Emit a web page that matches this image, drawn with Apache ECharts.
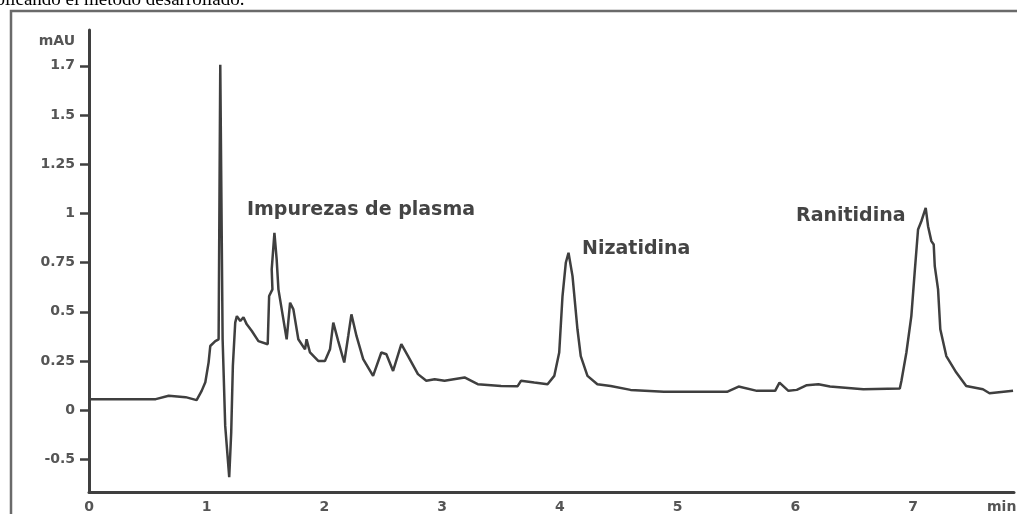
<!DOCTYPE html>
<html>
<head>
<meta charset="utf-8">
<title>Cromatograma</title>
<script src="https://cdn.jsdelivr.net/npm/echarts@6/dist/echarts.min.js"></script>
<style>
  html, body { margin: 0; padding: 0; background: #fff; }
  #chart { width: 1017px; height: 514px; }
</style>
</head>
<body>
<div id="chart"></div>
<script>
// retention time (min) and detector signal
const times = [
  0, 0.567, 0.677, 0.821, 0.914, 0.957, 0.988, 1.016, 1.030, 1.073, 1.101,
  1.115, 1.135, 1.157, 1.191, 1.208, 1.222, 1.242, 1.256, 1.285, 1.312,
  1.340, 1.383, 1.439, 1.518, 1.530, 1.558, 1.552, 1.575, 1.594, 1.609,
  1.637, 1.679, 1.708, 1.736, 1.778, 1.835, 1.848, 1.877, 1.947, 2.004,
  2.047, 2.075, 2.117, 2.168, 2.202, 2.229, 2.272, 2.329, 2.413, 2.483,
  2.526, 2.583, 2.653, 2.710, 2.794, 2.865, 2.936, 3.020, 3.190, 3.302,
  3.500, 3.641, 3.669, 3.782, 3.895, 3.952, 3.994, 4.022, 4.050, 4.073,
  4.107, 4.149, 4.177, 4.234, 4.318, 4.431, 4.600, 4.883, 5.419, 5.518,
  5.673, 5.828, 5.865, 5.941, 6.012, 6.097, 6.196, 6.294, 6.577, 6.887,
  6.901, 6.943, 6.985, 7.013, 7.042, 7.070, 7.107, 7.127, 7.155, 7.175,
  7.184, 7.212, 7.231, 7.282, 7.367, 7.451, 7.593, 7.649, 7.849
];
const signal = [
  0.056, 0.056, 0.073, 0.066, 0.051, 0.098, 0.142, 0.243, 0.326, 0.351, 0.360,
  1.755, 0.360, -0.080, -0.341, -0.113, 0.225, 0.445, 0.478, 0.453, 0.472,
  0.436, 0.402, 0.351, 0.335, 0.580, 0.614, 0.715, 0.901, 0.766, 0.614,
  0.512, 0.360, 0.546, 0.512, 0.360, 0.309, 0.360, 0.293, 0.250, 0.250,
  0.309, 0.445, 0.351, 0.242, 0.377, 0.487, 0.377, 0.259, 0.174, 0.293,
  0.284, 0.199, 0.335, 0.275, 0.183, 0.149, 0.157, 0.149, 0.166, 0.132,
  0.123, 0.122, 0.149, 0.140, 0.132, 0.174, 0.293, 0.580, 0.749, 0.800,
  0.681, 0.411, 0.275, 0.174, 0.132, 0.123, 0.103, 0.093, 0.093, 0.120,
  0.098, 0.098, 0.140, 0.098, 0.103, 0.127, 0.132, 0.120, 0.106, 0.110,
  0.149, 0.293, 0.478, 0.698, 0.918, 0.960, 1.028, 0.935, 0.859, 0.842,
  0.732, 0.614, 0.411, 0.275, 0.191, 0.123, 0.106, 0.086, 0.098
];

// the printed axis is not linear at both ends: labels sit on an even grid
const yTickValues = [-0.25, 0, 0.25, 0.5, 0.75, 1, 1.25, 1.5, 1.75];
const yTickLabels = ['-0.5', '0', '0.25', '0.5', '0.75', '1', '1.25', '1.5', '1.7'];

const peakNames = ['Impurezas de plasma', 'Nizatidina', 'Ranitidina'];

const ink = '#3f3f3f';
const labelFont = { fontFamily: 'DejaVu Sans', fontWeight: 'bold', fontSize: 14, color: '#555' };

const chart = echarts.init(document.getElementById('chart'), null, { renderer: 'canvas' });

chart.setOption({
  animation: false,
  backgroundColor: '#fff',
  grid: { left: 89, right: 0, top: 30, bottom: 21, containLabel: false },
  xAxis: {
    type: 'value',
    min: 0,
    max: 7.857,
    interval: 1,
    splitLine: { show: false },
    axisTick: { show: false },
    axisLine: { onZero: false, lineStyle: { color: ink, width: 3 } },
    axisLabel: Object.assign({}, labelFont, {
      margin: 8,
      formatter: v => (Number.isInteger(v) ? String(v) : '')
    })
  },
  yAxis: {
    type: 'value',
    min: -0.416,
    max: 1.932,
    name: 'mAU',
    nameLocation: 'end',
    nameGap: -11,
    nameTextStyle: Object.assign({}, labelFont, { align: 'right', verticalAlign: 'middle', padding: [0, 14, 0, 0] }),
    splitLine: { show: false },
    axisLine: { onZero: false, lineStyle: { color: ink, width: 3 } },
    axisTick: {
      show: true,
      length: 9,
      customValues: yTickValues,
      lineStyle: { color: ink, width: 2.5 }
    },
    axisLabel: Object.assign({}, labelFont, {
      margin: 14,
      customValues: yTickValues,
      formatter: v => {
        const i = yTickValues.findIndex(t => Math.abs(t - v) < 1e-6);
        return i >= 0 ? yTickLabels[i] : '';
      }
    })
  },
  series: [{
    type: 'line',
    data: times.map((t, i) => [t, signal[i]]),
    symbol: 'none',
    smooth: false,
    lineStyle: { color: ink, width: 2.5 }
  }],
  graphic: [
    {
      type: 'rect',
      shape: { x: 11, y: 11, width: 1030, height: 530 },
      style: { fill: 'none', stroke: '#6a6a6a', lineWidth: 2.5 },
      silent: true
    },
    {
      type: 'text',
      x: -13, y: 0,
      style: {
        text: 'aplicando el método desarrollado.',
        font: '19px "Liberation Serif"',
        fill: '#000',
        textAlign: 'left',
        textVerticalAlign: 'middle'
      }
    },
    {
      type: 'text',
      x: 247, y: 210,
      style: { text: peakNames[0], font: 'bold 19px "DejaVu Sans"', fill: '#444', textVerticalAlign: 'middle' }
    },
    {
      type: 'text',
      x: 582, y: 249,
      style: { text: peakNames[1], font: 'bold 19px "DejaVu Sans"', fill: '#444', textVerticalAlign: 'middle' }
    },
    {
      type: 'text',
      x: 796, y: 216,
      style: { text: peakNames[2], font: 'bold 19px "DejaVu Sans"', fill: '#444', textVerticalAlign: 'middle' }
    },
    {
      type: 'text',
      x: 987, y: 507,
      style: { text: 'min', font: 'bold 14px "DejaVu Sans"', fill: '#555', textVerticalAlign: 'middle' }
    }
  ]
});
</script>
</body>
</html>
